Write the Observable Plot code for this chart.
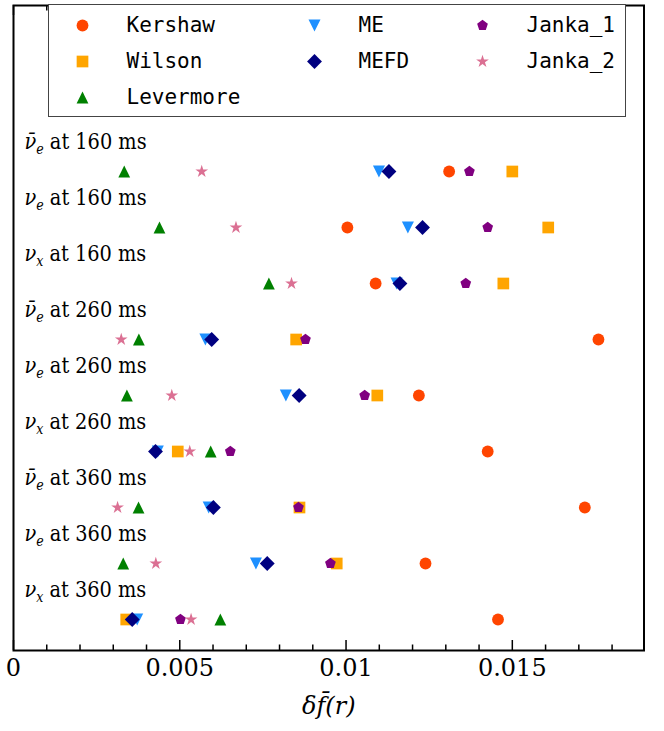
<!DOCTYPE html>
<html>
<head>
<meta charset="utf-8">
<script src="https://cdn.jsdelivr.net/npm/d3@7"></script>
<script src="https://cdn.jsdelivr.net/npm/@observablehq/plot@0.6"></script>
<style>
  body { margin: 0; background: #fff; }
  #wrap { position: relative; width: 664px; height: 731px; background: #fff; }
  #legend { position: absolute; left: 48px; top: 4px; width: 576px; height: 111px;
            border: 1px solid #444; background: #fff; }
</style>
</head>
<body>
<div id="wrap"><div id="chart"></div><div id="legend"></div></div>
<script>
// ---------- data ----------
const rowLabels = [
  "ν̄_e at 160 ms", "ν_e at 160 ms", "ν_x at 160 ms",
  "ν̄_e at 260 ms", "ν_e at 260 ms", "ν_x at 260 ms",
  "ν̄_e at 360 ms", "ν_e at 360 ms", "ν_x at 360 ms"
];
const kershaw   = [0.01310, 0.01004, 0.01089, 0.01759, 0.01219, 0.01426, 0.01718, 0.01239, 0.01457];
const wilson    = [0.01500, 0.01608, 0.01473, 0.00850, 0.01094, 0.00494, 0.00860, 0.00972, 0.00339];
const levermore = [0.00333, 0.00439, 0.00768, 0.00377, 0.00341, 0.00593, 0.00376, 0.00330, 0.00622];
const me        = [0.01099, 0.01186, 0.01152, 0.00577, 0.00819, 0.00434, 0.00587, 0.00729, 0.00372];
const mefd      = [0.01129, 0.01230, 0.01162, 0.00596, 0.00859, 0.00427, 0.00601, 0.00763, 0.00357];
const janka1    = [0.01371, 0.01426, 0.01360, 0.00878, 0.01056, 0.00652, 0.00857, 0.00953, 0.00502];
const janka2    = [0.00566, 0.00669, 0.00836, 0.00324, 0.00476, 0.00530, 0.00313, 0.00428, 0.00534];

const seriesNames  = ["Kershaw", "Wilson", "Levermore", "ME", "MEFD", "Janka_1", "Janka_2"];
const seriesColors = ["#FF4500", "#FFA500", "#008000", "#1E90FF", "#000080", "#800080", "#DB7093"];

const xTickValues = [0, 0.005, 0.01, 0.015];
const xTickLabels = ["0", "0.005", "0.01", "0.015"];
const xLabel = "δf̄(r)";

// legend grid (matplotlib ncol=3 fills columns 3,2,2)
const legendCol = [0, 0, 0, 1, 1, 2, 2];
const legendRow = [0, 1, 2, 0, 1, 0, 1];

// ---------- custom marker shapes (matplotlib-like) ----------
const triUp = { draw(ctx, size) { const h = Math.sqrt(2 * size);
  ctx.moveTo(0, -h / 2); ctx.lineTo(h / 2, h / 2); ctx.lineTo(-h / 2, h / 2); ctx.closePath(); } };
const triDown = { draw(ctx, size) { const h = Math.sqrt(2 * size);
  ctx.moveTo(0, h / 2); ctx.lineTo(h / 2, -h / 2); ctx.lineTo(-h / 2, -h / 2); ctx.closePath(); } };
const pentagon = { draw(ctx, size) { const R = Math.sqrt(size / 2.3776);
  for (let i = 0; i < 5; i++) { const a = -Math.PI / 2 + i * 2 * Math.PI / 5;
    const px = R * Math.cos(a), py = R * Math.sin(a);
    if (i === 0) ctx.moveTo(px, py); else ctx.lineTo(px, py); }
  ctx.closePath(); } };

const seriesValues  = [kershaw, wilson, levermore, me, mefd, janka1, janka2];
const seriesSymbols = ["circle", "square", triUp, triDown, "diamond2", pentagon, "star"];
const seriesR       = [5.9, 6.6, 4.7, 4.8, 6.7, 4.9, 4.0];

// ---------- layout ----------
const W = 664, H = 731, mT = 5, mB = 81, mL = 13, mR = 20.5;
const frameH = H - mT - mB;
const minorTicks = d3.range(1, 19).filter(i => i % 5 !== 0).map(i => i / 1000);

const dotMarks = seriesValues.map((vals, s) =>
  Plot.dot(vals, {
    x: d => d, y: (d, i) => rowLabels[i],
    symbol: seriesSymbols[s], r: seriesR[s], fill: seriesColors[s], stroke: "none"
  })
);

const chart = Plot.plot({
  width: W, height: H,
  marginTop: mT, marginBottom: mB, marginLeft: mL, marginRight: mR,
  x: { domain: [0, 0.01896], axis: null },
  y: { type: "point", domain: rowLabels, padding: 0, insetTop: 163.3, insetBottom: 28.7, axis: null },
  style: { fontFamily: "DejaVu Serif", fontSize: "20px", color: "black", background: "white", overflow: "visible" },
  marks: [
    // inward ticks, bottom
    Plot.ruleX(xTickValues, { x: d => d, insetTop: frameH - 10, stroke: "black", strokeWidth: 1.5 }),
    Plot.ruleX(minorTicks, { x: d => d, insetTop: frameH - 5.5, stroke: "black", strokeWidth: 1.5 }),
    // inward ticks, top
    Plot.ruleX(xTickValues, { x: d => d, insetBottom: frameH - 10, stroke: "black", strokeWidth: 1.5 }),
    Plot.ruleX(minorTicks, { x: d => d, insetBottom: frameH - 5.5, stroke: "black", strokeWidth: 1.5 }),
    // tick labels
    Plot.text(xTickValues, { x: d => d, text: (d, i) => xTickLabels[i], frameAnchor: "bottom",
      dy: 18, lineAnchor: "middle", fontSize: 24, fill: "black" }),
    // axis label
    Plot.text([xLabel], { text: d => d, frameAnchor: "bottom", dy: 56, lineAnchor: "middle",
      fontSize: 24, fontStyle: "italic", fill: "black" }),
    // row labels
    Plot.text(rowLabels, { y: d => d, text: d => d, frameAnchor: "left", textAnchor: "start",
      dx: 11, dy: -29, lineAnchor: "middle", fontSize: 21.5, fill: "black",
      fontFamily: "'DejaVu Serif Condensed', 'DejaVu Serif'" }),
    ...dotMarks,
    Plot.frame({ stroke: "black", strokeWidth: 2 })
  ]
});
document.getElementById("chart").appendChild(chart);

// math-style row labels: italic greek symbol with italic subscript
d3.select(chart).selectAll("text").each(function () {
  const t = d3.select(this);
  const s = t.text();
  if (!rowLabels.includes(s)) return;
  const [sym, rest] = s.split("_");
  const sub = rest.slice(0, 1), tail = rest.slice(1);
  t.text(null);
  t.append("tspan").attr("font-style", "italic").text(sym);
  t.append("tspan").attr("font-style", "italic").attr("font-size", 14).attr("dy", 5).text(sub);
  t.append("tspan").attr("dy", -5).text(tail);
});

// ---------- legend ----------
const legendColX = [33, 265, 433];
const legendItems = seriesNames.map((name, i) => ({ name, col: legendCol[i], row: legendRow[i] }));
const legend = Plot.plot({
  width: 576, height: 111, margin: 0,
  x: { type: "identity", axis: null },
  y: { domain: [0, 2], range: [20, 92], axis: null },
  style: { background: "white", overflow: "visible" },
  marks: [
    ...legendItems.map((it, i) => Plot.dot([it], {
      x: d => legendColX[d.col], y: "row", symbol: seriesSymbols[i], r: seriesR[i],
      fill: seriesColors[i], stroke: "none"
    })),
    Plot.text(legendItems, { x: d => legendColX[d.col], y: "row", text: "name", textAnchor: "start", dx: 44,
      lineAnchor: "middle", fontFamily: "DejaVu Sans Mono", fontSize: 21, fill: "black" })
  ]
});
document.getElementById("legend").appendChild(legend);
</script>
</body>
</html>
